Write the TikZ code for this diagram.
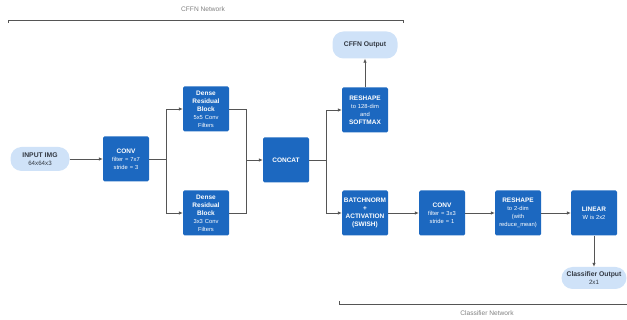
\documentclass[tikz,border=0pt]{standalone}
\usepackage{fontspec}
\setmainfont{Liberation Sans}
\usetikzlibrary{arrows.meta}

\definecolor{boxblue}{RGB}{28,104,192}
\definecolor{pillblue}{RGB}{207,226,248}
\definecolor{linegray}{RGB}{85,85,85}
\definecolor{pilltext}{RGB}{50,56,66}

\newcommand{\hd}[1]{{\fontsize{6.5}{8}\selectfont\bfseries #1}}

\tikzset{
  block/.style={fill=boxblue, rounded corners=1.5pt, minimum width=46pt,
    minimum height=45pt, text width=46pt, inner sep=0pt, align=center,
    text=white, font=\fontsize{5.8}{8}\selectfont},
  pill/.style={fill=pillblue, rounded corners=11pt, inner sep=0pt,
    align=center, text=pilltext, font=\fontsize{6.2}{8}\selectfont},
  link/.style={draw=linegray, line width=0.7pt},
  arrow/.style={link, -{Latex[length=4pt,width=3.5pt]}},
  bracket/.style={draw=linegray, line width=0.8pt},
  caption/.style={text=gray, font=\fontsize{6.6}{8}\selectfont}
}

\begin{document}
\begin{tikzpicture}[x=1pt,y=-1pt]
\useasboundingbox (0,0) rectangle (627,320);

% CFFN part
\node[pill, minimum width=59pt, minimum height=24pt] (input) at (40,159)
  {{\fontsize{6.8}{8}\selectfont\bfseries INPUT IMG}\\64x64x3};
\node[block] (conv1) at (126,159) {\hd{CONV}\\filter = 7x7\\stride = 3};
\node[block] (dense1) at (206,109) {\hd{Dense}\\\hd{Residual}\\\hd{Block}\\5x5 Conv\\Filters};
\node[block] (dense2) at (206,213) {\hd{Dense}\\\hd{Residual}\\\hd{Block}\\3x3 Conv\\Filters};
\node[block] (concat) at (286,160) {\hd{CONCAT}};
\node[block] (reshape1) at (365,110) {\hd{RESHAPE}\\to 128-dim\\and\\\hd{SOFTMAX}};
\node[pill, minimum width=65pt, minimum height=27pt] (cffnout) at (365,45)
  {{\fontsize{6.8}{8}\selectfont\bfseries CFFN Output}};

% classifier part
\node[block] (batchnorm) at (365,213) {\hd{BATCHNORM}\\\hd{+}\\\hd{ACTIVATION}\\\hd{(SWISH)}};
\node[block] (conv2) at (442,213) {\hd{CONV}\\filter = 3x3\\stride = 1};
\node[block] (reshape2) at (518,213) {\hd{RESHAPE}\\to 2-dim\\(with\\reduce\_mean)};
\node[block] (linear) at (594,213) {\hd{LINEAR}\\W is 2x2};
\node[pill, minimum width=65pt, minimum height=22pt] (clsout) at (594,278)
  {{\fontsize{6.8}{8}\selectfont\bfseries Classifier Output}\\2x1};

% branch points
\coordinate (split1) at (166,159);
\coordinate (merge1) at (246,160);
\coordinate (split2) at (326,160);

\draw[arrow] (input) -- (conv1);
\draw[link] (conv1.east) -- (split1);
\draw[arrow] (split1) |- (dense1);
\draw[arrow] (split1) |- (dense2);
\draw[link] (dense1.east) -| (merge1);
\draw[link] (dense2.east) -| (merge1);
\draw[arrow] (merge1) -- (concat);
\draw[link] (concat.east) -- (split2);
\draw[arrow] (split2) |- (reshape1);
\draw[arrow] (split2) |- (batchnorm);
\draw[arrow] (reshape1) -- (cffnout);
\draw[arrow] (batchnorm) -- (conv2);
\draw[arrow] (conv2) -- (reshape2);
\draw[arrow] (reshape2) -- (linear);
\draw[arrow] (linear) -- (clsout);

% network brackets
\draw[bracket] (8,23) -- (8,20) -- (403,20) -- (403,23);
\node[caption] (cffnlabel) at (203,9) {CFFN Network};
\draw[bracket] (339,301) -- (339,304) -- (627,304);
\node[caption] (clslabel) at (487,313) {Classifier Network};

\end{tikzpicture}
\end{document}
